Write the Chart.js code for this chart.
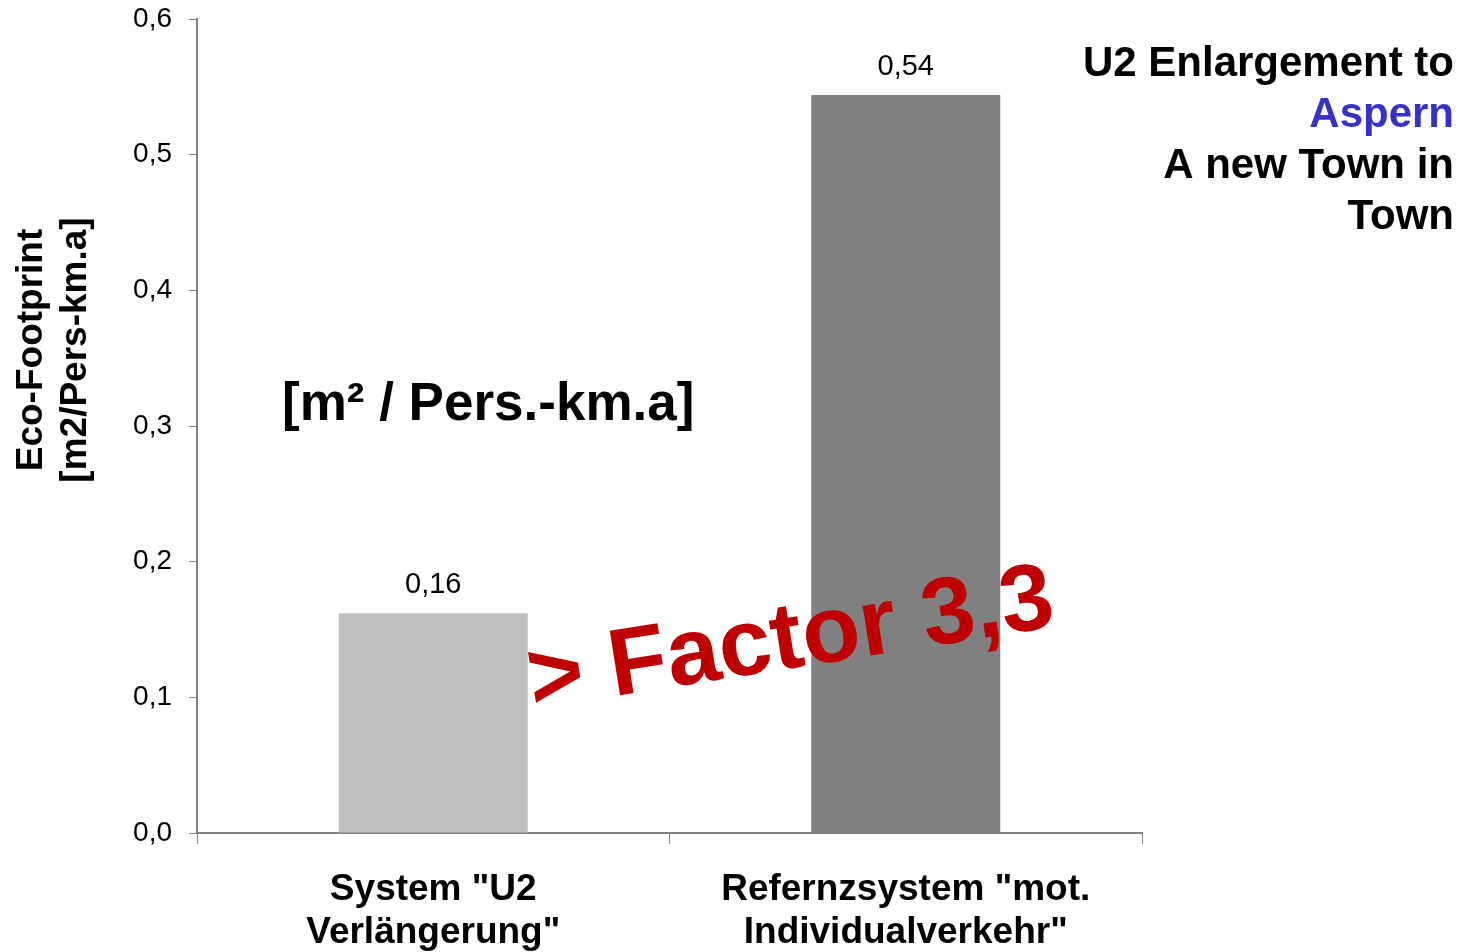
<!DOCTYPE html>
<html>
<head>
<meta charset="utf-8">
<script src="https://cdn.jsdelivr.net/npm/chart.js@4/dist/chart.umd.min.js"></script>
<style>
  html, body { margin: 0; padding: 0; background: #ffffff; }
  #wrap { width: 1472px; height: 952px; position: relative; }
</style>
</head>
<body>
<div id="wrap"><canvas id="c"></canvas></div>
<script>
// Eco-footprint per passenger-km for the two transport systems
const categories = [
  ['System "U2', 'Verlängerung"'],
  ['Refernzsystem "mot.', 'Individualverkehr"']
];
const footprint = [0.162, 0.544];
const barColors = ['#C0C0C0', '#808080'];
const yTicks = [0, 0.1, 0.2, 0.3, 0.4, 0.5, 0.6];
const yTitle = ['Eco-Footprint', '[m2/Pers-km.a]'];
const unitNote = '[m² / Pers.-km.a]';
const factorNote = '> Factor 3,3';
const headline = [
  { text: 'U2 Enlargement to', color: '#000000' },
  { text: 'Aspern', color: '#3333CC' },
  { text: 'A new Town in', color: '#000000' },
  { text: 'Town', color: '#000000' }
];

const FONT = '"Liberation Sans", Arial, Helvetica, sans-serif';
const AXIS = '#808080';
const comma = (v, d) => v.toFixed(d).replace('.', ',');

// Value labels above each bar
const barValueLabels = {
  id: 'barValueLabels',
  afterDatasetsDraw(chart) {
    const ctx = chart.ctx;
    const meta = chart.getDatasetMeta(0);
    ctx.save();
    ctx.font = '29px ' + FONT;
    ctx.fillStyle = '#000000';
    ctx.textAlign = 'center';
    ctx.textBaseline = 'middle';
    meta.data.forEach((bar, i) => {
      ctx.fillText(comma(footprint[i], 2), bar.x, bar.y - 28);
    });
    ctx.restore();
  }
};

// Axis title, unit note, factor callout and headline
const annotations = {
  id: 'annotations',
  afterDraw(chart) {
    const ctx = chart.ctx;
    ctx.save();

    // rotated y-axis title
    ctx.font = 'bold 37px ' + FONT;
    ctx.fillStyle = '#000000';
    ctx.textAlign = 'center';
    ctx.textBaseline = 'middle';
    yTitle.forEach((line, i) => {
      ctx.save();
      ctx.translate(32 + i * 44, 350);
      ctx.rotate(-Math.PI / 2);
      ctx.fillText(line, 0, 0);
      ctx.restore();
    });

    // unit note inside the plot
    ctx.font = 'bold 53px ' + FONT;
    ctx.textAlign = 'left';
    ctx.textBaseline = 'alphabetic';
    ctx.fillText(unitNote, 282, 420);

    // headline, right aligned
    ctx.font = 'bold 42px ' + FONT;
    ctx.textAlign = 'right';
    headline.forEach((h, i) => {
      ctx.fillStyle = h.color;
      ctx.fillText(h.text, 1454, 76 + i * 51);
    });

    // factor callout
    ctx.save();
    ctx.translate(533, 709);
    ctx.rotate(-9 * Math.PI / 180);
    ctx.font = 'bold 95px ' + FONT;
    ctx.fillStyle = '#C00000';
    ctx.textAlign = 'left';
    ctx.textBaseline = 'alphabetic';
    ctx.fillText(factorNote, 0, 0);
    ctx.restore();

    ctx.restore();
  }
};

new Chart(document.getElementById('c'), {
  type: 'bar',
  data: {
    labels: categories,
    datasets: [{
      data: footprint,
      backgroundColor: barColors,
      borderWidth: 0,
      barPercentage: 0.8,
      categoryPercentage: 0.5
    }]
  },
  options: {
    responsive: true,
    maintainAspectRatio: false,
    animation: false,
    layout: { padding: { top: 19, right: 330, left: 0, bottom: 0 } },
    plugins: {
      legend: { display: false },
      tooltip: { enabled: false }
    },
    scales: {
      x: {
        afterFit(scale) { scale.height = 119; },
        border: { display: true, color: AXIS, width: 2 },
        grid: {
          offset: true,
          drawOnChartArea: false,
          drawTicks: true,
          tickLength: 11,
          color: AXIS,
          lineWidth: 1
        },
        ticks: {
          color: '#000000',
          padding: 24,
          maxRotation: 0,
          autoSkip: false,
          font: { family: FONT, size: 37, weight: 'bold', lineHeight: 1.17 }
        }
      },
      y: {
        min: 0,
        max: 0.6,
        afterFit(scale) {
          scale.width = 197;
          scale.paddingTop = 0;
          scale.paddingBottom = 0;
        },
        afterBuildTicks(scale) { scale.ticks = yTicks.map(v => ({ value: v })); },
        border: { display: true, color: AXIS, width: 2 },
        grid: {
          drawOnChartArea: false,
          drawTicks: true,
          tickLength: 8,
          color: AXIS,
          lineWidth: 1
        },
        ticks: {
          color: '#000000',
          padding: 17,
          font: { family: FONT, size: 28 },
          callback: v => comma(v, 1)
        }
      }
    }
  },
  plugins: [barValueLabels, annotations]
});
</script>
</body>
</html>
